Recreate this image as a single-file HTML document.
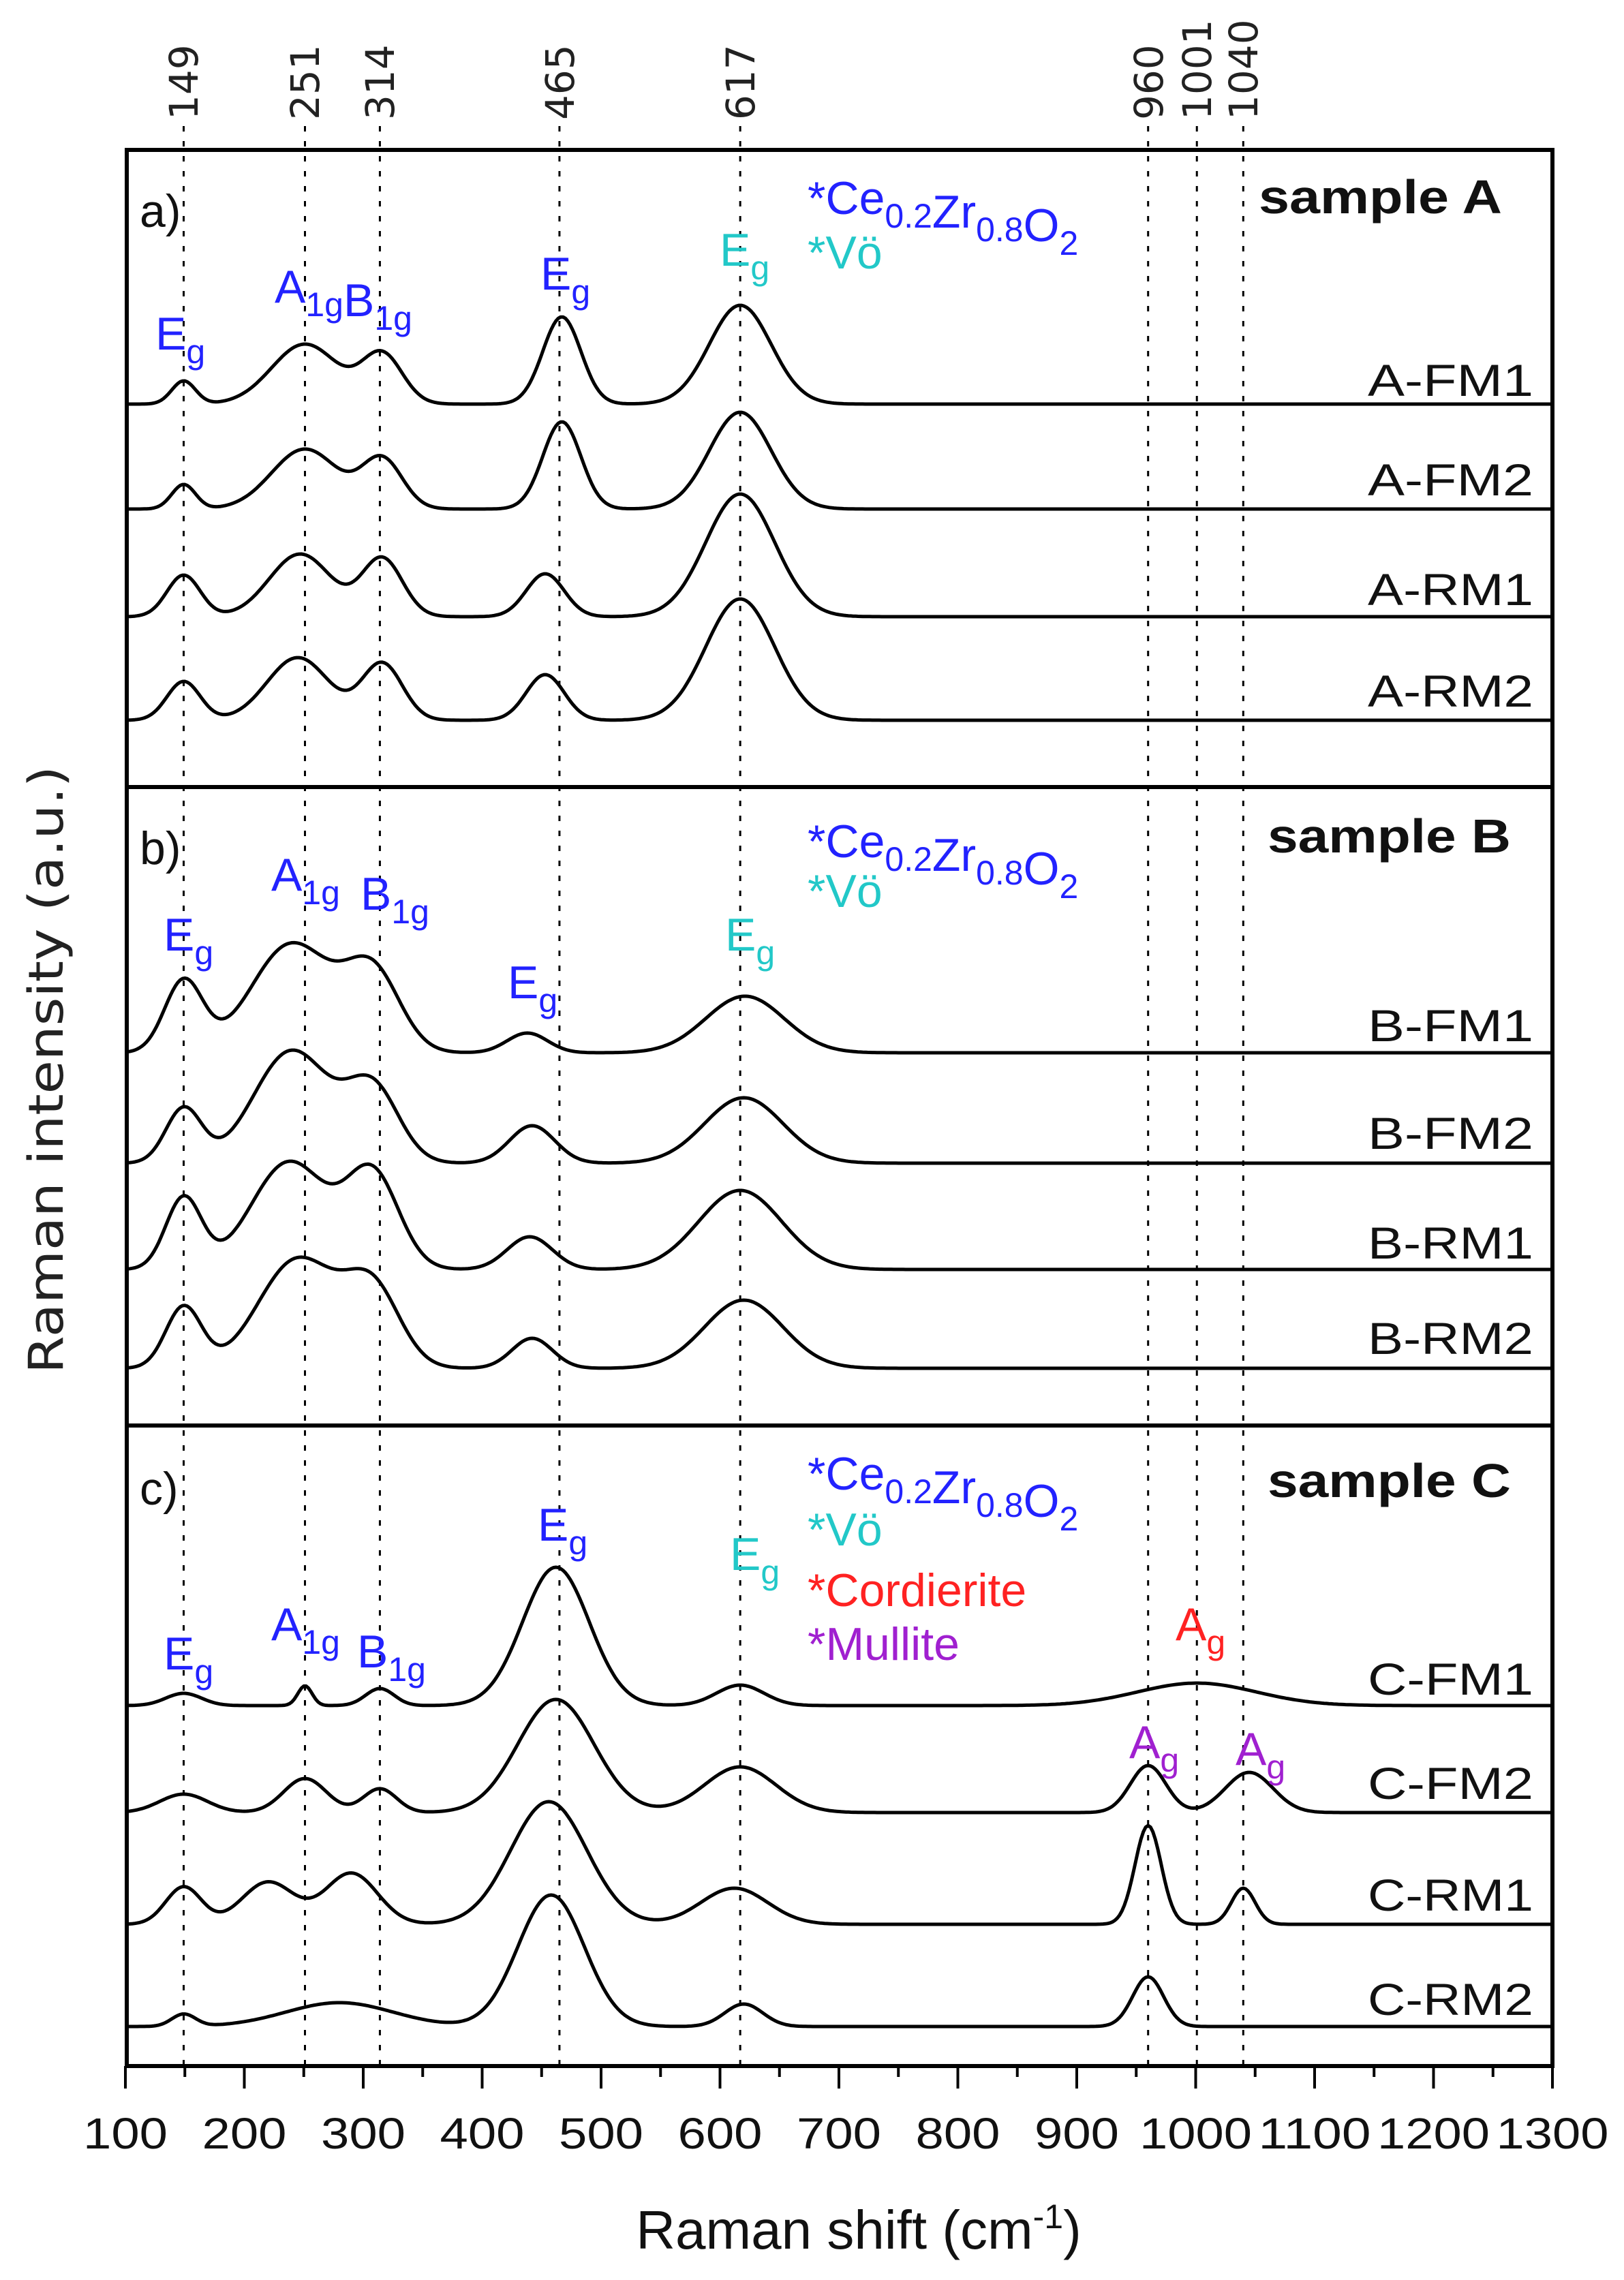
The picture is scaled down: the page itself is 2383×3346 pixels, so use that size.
<!DOCTYPE html>
<html><head><meta charset="utf-8"><style>html,body{margin:0;padding:0;background:#fff}svg{display:block}</style></head>
<body>
<svg id="s" xmlns="http://www.w3.org/2000/svg" width="2383" height="3346" viewBox="0 0 2383 3346" font-family="Liberation Sans, sans-serif">
<g id="dots" stroke="#000" stroke-width="3" stroke-dasharray="8,14"></g>
<g id="curves" fill="none" stroke="#000" stroke-width="5" stroke-linejoin="round"></g>
<g fill="none" stroke="#000" stroke-width="6">
<rect x="186" y="220" width="2092" height="2812"/>
<line x1="186" y1="1155" x2="2278" y2="1155"/>
<line x1="186" y1="2092" x2="2278" y2="2092"/>
</g>
<g id="ticks" stroke="#000" stroke-width="4"></g>
<g id="txt"></g>
<g font-family="DejaVu Sans, sans-serif" font-size="58" fill="#222">
<text transform="translate(290,176) rotate(-90)">149</text>
<text transform="translate(468,176) rotate(-90)">251</text>
<text transform="translate(578,176) rotate(-90)">314</text>
<text transform="translate(842,176) rotate(-90)">465</text>
<text transform="translate(1107,176) rotate(-90)">617</text>
<text transform="translate(1706,176) rotate(-90)">960</text>
<text transform="translate(1777,176) rotate(-90)">1001</text>
<text transform="translate(1845,176) rotate(-90)">1040</text>
<text transform="translate(92,1570) rotate(-90)" text-anchor="middle" font-size="70" textLength="892" lengthAdjust="spacingAndGlyphs">Raman intensity (a.u.)</text>
</g>
<text x="1260" y="3300" text-anchor="middle" font-size="80" fill="#111">Raman shift (cm<tspan font-size="50" dy="-30">-1</tspan><tspan dy="30">)</tspan></text>
</svg>
<script>
const NS="http://www.w3.org/2000/svg";
const X=c=>184+(c-100)*1.745;
function el(p,t,a,txt){const e=document.createElementNS(NS,t);for(const k in a)e.setAttribute(k,a[k]);if(txt!==undefined)e.textContent=txt;document.getElementById(p).appendChild(e);return e;}
[149,251,314,465,617,960,1001,1040].forEach(c=>el('dots','line',{x1:X(c),y1:185,x2:X(c),y2:3030}));
const S=[
[593,[[149,34,10],[251,88,28],[316,72,17],[467,128,16],[617,145,26]]],
[747,[[149,36,10],[251,88,28],[316,72,17],[467,128,16],[617,142,26]]],
[905,[[149,61,14],[247,92,26],[316,85,17],[453,63,16],[617,180,29]]],
[1057,[[149,57,14],[245,92,26],[316,83,17],[453,67,16],[617,178,29]]],
[1545,[[149,105,16],[240,160,34],[308,115,23],[438,29,17],[621,83,33]]],
[1707,[[149,80,15],[240,165,32],[308,108,22],[442,55,19],[620,96,33]]],
[1863,[[149,105,15],[238,158,32],[308,138,22],[440,48,19],[617,116,35]]],
[2008,[[149,90,15],[245,160,33],[308,112,23],[442,44,17],[620,100,33]]],
[2503,[[149,18,15],[251,29,6],[314,25,12],[462,203,28],[617,30,20],[1001,33,50]]],
[2660,[[149,27,20],[251,50,18],[314,35,14],[462,166,32],[617,67,30],[960,69,15],[1045,59,20]]],
[2824,[[149,55,15],[220,62,22],[290,75,22],[456,180,32],[612,53,28],[960,145,11],[1040,53,10]]],
[2974,[[149,18,10],[280,35,45],[458,193,28],[620,33,16],[960,73,13]]]
];
S.forEach(([b,pk])=>{let d='';for(let c=100;c<=1300;c+=2){let y=0;pk.forEach(([m,a,s])=>{y+=a*Math.exp(-0.5*((c-m)/s)**2)});d+=(c==100?'M':'L')+X(c).toFixed(1)+','+(b-y).toFixed(1);}el('curves','path',{d});});
for(let c=100;c<=1300;c+=50){const maj=c%100==0;el('ticks','line',{x1:X(c),y1:3032,x2:X(c),y2:3032+(maj?33:16)});}
for(let c=100;c<=1300;c+=100){const s=String(c);el('txt','text',{x:X(c),y:3153,'text-anchor':'middle','font-size':64,fill:'#111',textLength:s.length==3?124:165,lengthAdjust:'spacingAndGlyphs'},s);}
function T(x,y,s,col,fs,anchor,bold,tl){const e=el('txt','text',{x,y,fill:col||'#111','font-size':fs||68});if(anchor)e.setAttribute('text-anchor',anchor);if(bold)e.setAttribute('font-weight','bold');if(tl){e.setAttribute('textLength',tl);e.setAttribute('lengthAdjust','spacingAndGlyphs');}e.innerHTML=s;return e;}
const B='#2222ff',C='#22c8c8',R='#ff2222',P='#a020d0';
const sub=(t)=>`<tspan font-size="50" dy="20">${t}</tspan><tspan dy="-20"></tspan>`;
T(205,333,'a)');T(1185,314,'*Ce'+sub('0.2')+'Zr'+sub('0.8')+'O'+sub('2'),B,68);T(1185,394,'*Vö',C,68);
T(1847,313,'sample A','#111',70,null,true,357);
T(228,513,'E'+sub('g'),B);T(403,444,'A'+sub('1g')+'B'+sub('1g'),B);T(793,425,'E'+sub('g'),B);T(1056,390,'E'+sub('g'),C);
[['A-FM1',581],['A-FM2',727],['A-RM1',888],['A-RM2',1037]].forEach(([s,y])=>T(2250,y,s,'#111',66,'end',false,243));
T(205,1268,'b)');T(1185,1258,'*Ce'+sub('0.2')+'Zr'+sub('0.8')+'O'+sub('2'),B,68);T(1185,1331,'*Vö',C,68);
T(1860,1251,'sample B','#111',70,null,true,357);
T(240,1395,'E'+sub('g'),B);T(398,1307,'A'+sub('1g'),B);T(529,1335,'B'+sub('1g'),B);T(745,1465,'E'+sub('g'),B);T(1064,1395,'E'+sub('g'),C);
[['B-FM1',1528],['B-FM2',1686],['B-RM1',1847],['B-RM2',1987]].forEach(([s,y])=>T(2250,y,s,'#111',66,'end',false,243));
T(205,2208,'c)');T(1185,2186,'*Ce'+sub('0.2')+'Zr'+sub('0.8')+'O'+sub('2'),B,68);T(1185,2268,'*Vö',C,68);
T(1185,2357,'*Cordierite',R,68);T(1185,2436,'*Mullite',P,68);
T(1860,2197,'sample C','#111',70,null,true,357);
T(240,2450,'E'+sub('g'),B);T(398,2407,'A'+sub('1g'),B);T(524,2447,'B'+sub('1g'),B);T(789,2261,'E'+sub('g'),B);T(1071,2304,'E'+sub('g'),C);
T(1725,2407,'A'+sub('g'),R);T(1657,2580,'A'+sub('g'),P);T(1813,2590,'A'+sub('g'),P);
[['C-FM1',2487],['C-FM2',2640],['C-RM1',2804],['C-RM2',2957]].forEach(([s,y])=>T(2250,y,s,'#111',66,'end',false,243));
</script>
</body></html>
